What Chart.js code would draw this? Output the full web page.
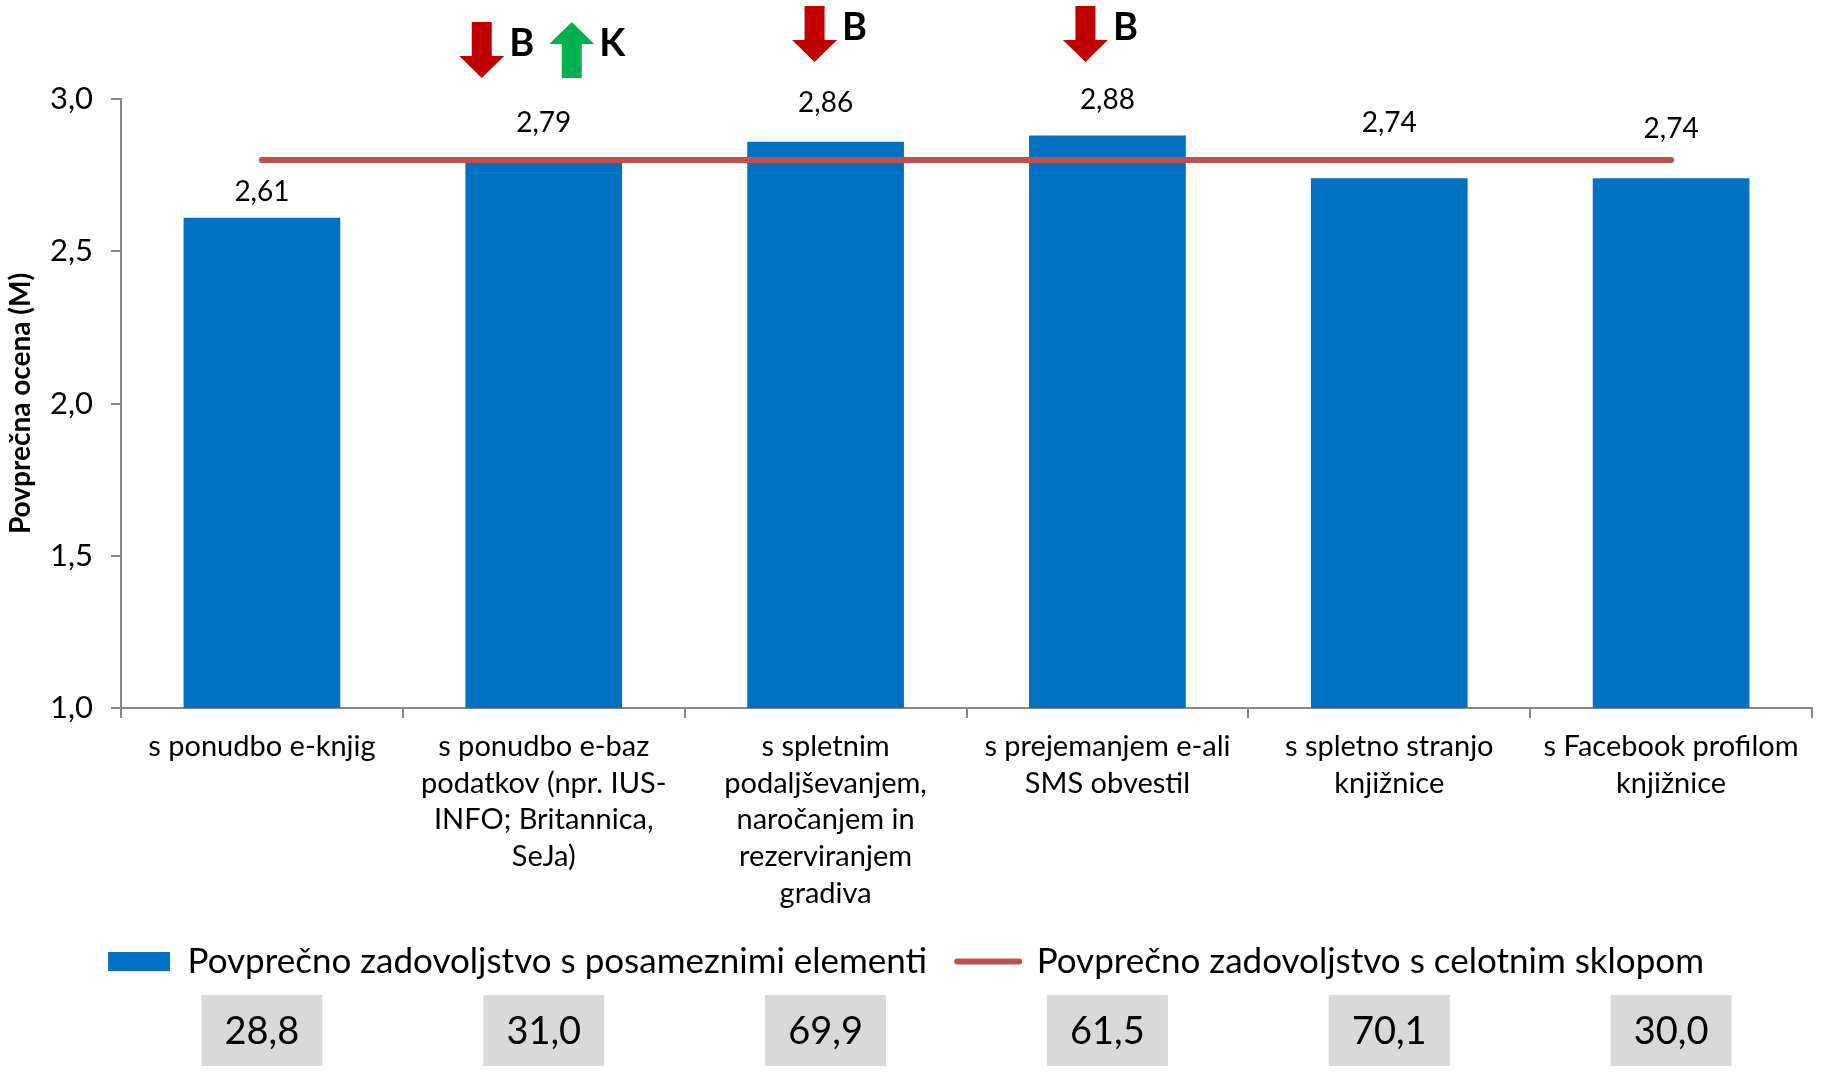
<!DOCTYPE html>
<html>
<head>
<meta charset="utf-8">
<script src="https://cdn.jsdelivr.net/npm/chart.js@4.4.1/dist/chart.umd.min.js"></script>
<style>
  html, body { margin: 0; padding: 0; background: #ffffff; }
  #wrap { width: 1825px; height: 1073px; }
</style>
</head>
<body>
<div id="wrap"><canvas id="chart" width="1825" height="1073"></canvas></div>
<script>
// Categories (multi-line tick labels)
const categories = [
  's ponudbo e-knjig',
  ['s ponudbo e-baz', 'podatkov (npr. IUS-', 'INFO; Britannica,', 'SeJa)'],
  ['s spletnim', 'podaljševanjem,', 'naročanjem in', 'rezerviranjem', 'gradiva'],
  ['s prejemanjem e-ali', 'SMS obvestil'],
  ['s spletno stranjo', 'knjižnice'],
  ['s Facebook profilom', 'knjižnice']
];

// Average satisfaction with each element
const itemScores = [2.61, 2.79, 2.86, 2.88, 2.74, 2.74];

// Average satisfaction with the whole group
const overallScores = [2.80, 2.80, 2.80, 2.80, 2.80, 2.80];

// Values shown in the grey boxes under the legend
const boxValues = [28.8, 31.0, 69.9, 61.5, 70.1, 30.0];

// Y axis ticks
const yTickValues = [1.0, 1.5, 2.0, 2.5, 3.0];

const seriesNames = [
  'Povprečno zadovoljstvo s posameznimi elementi',
  'Povprečno zadovoljstvo s celotnim sklopom'
];

// Change markers: category index, direction, group letter
const markIndex = [1, 1, 2, 3];
const markDirection = ['down', 'up', 'down', 'down'];
const markLetter = ['B', 'K', 'B', 'B'];

// ---- styling / layout ----
const FONT = 'Lato, "Noto Sans", sans-serif';
const BLUE = '#0070C0';
const RED_LINE = '#C0504D';
const AXIS_GREY = '#868686';
const labelLift = [26, 40, 39, 36, 55, 49];     // px between bar top and value label centre
const markShiftX = [-62, 28, -11, -22];          // arrow centre offset from category centre
const markRise = [77, 77, 93, 93];               // arrow top above the plot top
const fmt = (v, d) => v.toFixed(d).replace('.', ',');

const valueLabels = {
  id: 'valueLabels',
  afterDatasetsDraw(chart) {
    const ctx = chart.ctx;
    const meta = chart.getDatasetMeta(0);
    ctx.save();
    ctx.font = '28px ' + FONT;
    ctx.fillStyle = '#000';
    ctx.textAlign = 'center';
    ctx.textBaseline = 'middle';
    meta.data.forEach((bar, i) => {
      ctx.fillText(fmt(itemScores[i], 2), bar.x, bar.y - labelLift[i]);
    });
    ctx.restore();
  }
};

const changeMarks = {
  id: 'changeMarks',
  afterDraw(chart) {
    const ctx = chart.ctx;
    const xs = chart.scales.x;
    const W = 45, H = 56, S = 20, L = 22;
    ctx.save();
    markIndex.forEach((idx, k) => {
      const cx = xs.getPixelForValue(idx) + markShiftX[k];
      const top = chart.chartArea.top - markRise[k];
      ctx.beginPath();
      if (markDirection[k] === 'down') {
        ctx.moveTo(cx - S / 2, top);
        ctx.lineTo(cx + S / 2, top);
        ctx.lineTo(cx + S / 2, top + H - L);
        ctx.lineTo(cx + W / 2, top + H - L);
        ctx.lineTo(cx, top + H);
        ctx.lineTo(cx - W / 2, top + H - L);
        ctx.lineTo(cx - S / 2, top + H - L);
        ctx.fillStyle = '#C00000';
      } else {
        ctx.moveTo(cx, top);
        ctx.lineTo(cx + W / 2, top + L);
        ctx.lineTo(cx + S / 2, top + L);
        ctx.lineTo(cx + S / 2, top + H);
        ctx.lineTo(cx - S / 2, top + H);
        ctx.lineTo(cx - S / 2, top + L);
        ctx.lineTo(cx - W / 2, top + L);
        ctx.fillStyle = '#00B050';
      }
      ctx.closePath();
      ctx.fill();
      ctx.font = 'bold 38px ' + FONT;
      ctx.fillStyle = '#000';
      ctx.textAlign = 'left';
      ctx.textBaseline = 'middle';
      ctx.fillText(markLetter[k], cx + W / 2 + 5, top + H / 2 - 6);
    });
    ctx.restore();
  }
};

const valueBoxes = {
  id: 'valueBoxes',
  afterDraw(chart) {
    const ctx = chart.ctx;
    const xs = chart.scales.x;
    const bw = 121, bh = 71;
    const top = chart.legend.bottom + 6;
    ctx.save();
    boxValues.forEach((v, i) => {
      const cx = xs.getPixelForValue(i);
      ctx.fillStyle = '#D9D9D9';
      ctx.fillRect(cx - bw / 2, top, bw, bh);
      ctx.fillStyle = '#000';
      ctx.font = '38px ' + FONT;
      ctx.textAlign = 'center';
      ctx.textBaseline = 'middle';
      ctx.fillText(fmt(v, 1), cx, top + bh / 2 + 1);
    });
    ctx.restore();
  }
};

new Chart(document.getElementById('chart'), {
  data: {
    labels: categories,
    datasets: [
      {
        type: 'bar',
        label: seriesNames[0],
        data: itemScores,
        backgroundColor: BLUE,
        borderWidth: 0,
        barPercentage: 0.556,
        categoryPercentage: 1,
        order: 2
      },
      {
        type: 'line',
        label: seriesNames[1],
        data: overallScores,
        borderColor: RED_LINE,
        backgroundColor: RED_LINE,
        borderWidth: 6,
        borderCapStyle: 'round',
        pointRadius: 0,
        fill: false,
        order: 1
      }
    ]
  },
  options: {
    responsive: false,
    devicePixelRatio: 1,
    animation: false,
    layout: { padding: { top: 99, right: 13, bottom: 84, left: 0 } },
    plugins: {
      tooltip: { enabled: false },
      legend: {
        position: 'bottom',
        labels: {
          usePointStyle: true,
          pointStyleWidth: 62,
          boxHeight: 19,
          padding: 30,
          color: '#000',
          font: { family: FONT, size: 35 },
          generateLabels(chart) {
            return chart.data.datasets.map((ds, i) => ds.type === 'bar'
              ? { text: ds.label, datasetIndex: i, pointStyle: 'rect', fillStyle: BLUE, strokeStyle: BLUE, lineWidth: 0, hidden: false }
              : { text: ds.label, datasetIndex: i, pointStyle: 'line', fillStyle: RED_LINE, strokeStyle: RED_LINE, lineWidth: 6, lineCap: 'round', hidden: false });
          }
        }
      }
    },
    scales: {
      x: {
        offset: true,
        grid: { display: true, drawOnChartArea: false, drawTicks: true, tickLength: 10, color: AXIS_GREY, lineWidth: 2 },
        border: { display: true, color: AXIS_GREY, width: 2 },
        ticks: {
          autoSkip: false, maxRotation: 0, minRotation: 0, padding: 10, color: '#000',
          font: { family: FONT, size: 29, lineHeight: 1.27 }
        },
        afterFit(s) { s.height = 206; }
      },
      y: {
        min: 1, max: 3,
        afterBuildTicks(s) { s.ticks = yTickValues.map(v => ({ value: v })); },
        ticks: {
          padding: 18, color: '#000',
          font: { family: FONT, size: 31 },
          callback: v => fmt(v, 1)
        },
        grid: { display: true, drawOnChartArea: false, drawTicks: true, tickLength: 10, color: AXIS_GREY, lineWidth: 2 },
        border: { display: true, color: AXIS_GREY, width: 2 },
        title: {
          display: true, text: 'Povprečna ocena (M)', color: '#000',
          font: { family: FONT, size: 28, weight: 'bold' }, padding: { top: 4, bottom: 0 }
        },
        afterFit(s) { s.width = 121; }
      }
    }
  },
  plugins: [valueLabels, changeMarks, valueBoxes]
});
</script>
</body>
</html>
